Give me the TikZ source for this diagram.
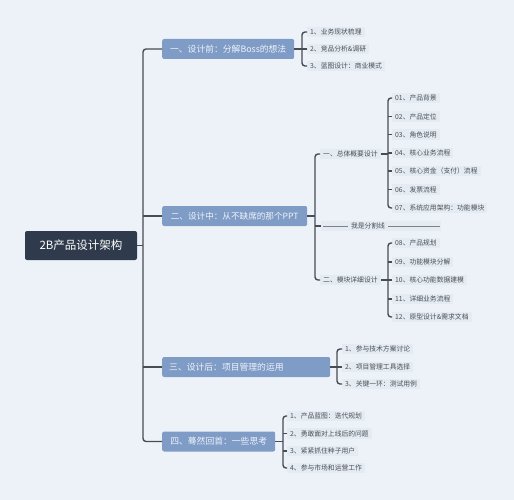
\documentclass[tikz,border=0pt]{standalone}
\usepackage{fontspec}
\setmainfont{Noto Sans CJK SC}
\definecolor{bg}{HTML}{EDF2F9}
\definecolor{rootc}{HTML}{2F3B4C}
\definecolor{mainc}{HTML}{7F9CC6}
\definecolor{mtext}{HTML}{EEF3FA}
\definecolor{linec}{HTML}{474C55}
\definecolor{lab}{HTML}{E5EBF2}
\definecolor{ltext}{HTML}{4A4F58}
\tikzset{
  rootbox/.style={fill=rootc,text=white,rounded corners=2pt,font=\fontsize{11.5}{12}\selectfont,minimum width=112pt,minimum height=29pt,inner sep=0pt},
  mainbox/.style={fill=mainc,text=mtext,rounded corners=2pt,font=\fontsize{8.8}{10}\selectfont,minimum height=20pt,inner xsep=7pt,anchor=west},
  leaf/.style={fill=lab,text=ltext,font=\fontsize{6.8}{8}\selectfont,inner xsep=3pt,inner ysep=2pt,anchor=west},
  conn/.style={draw=linec,line width=1.4pt},
  brk/.style={conn,rounded corners=3pt}
}
\begin{document}
\begin{tikzpicture}[x=1pt,y=-1pt]
\fill[bg] (0,0) rectangle (514,500);
\useasboundingbox (0,0) rectangle (514,500);
% root and main boxes
\node[rootbox] (root) at (81,245.5) {2B产品设计架构};
\node[mainbox,minimum width=132pt] (b1) at (162,49) {一、设计前：分解Boss的想法};
\node[mainbox,font=\fontsize{8.6}{10}\selectfont,minimum width=145pt] (b2) at (162,216) {二、设计中：从不缺席的那个PPT};
\node[mainbox,minimum width=168pt,align=left,text width=154pt] (b3) at (162,367) {三、设计后：项目管理的运用};
\node[mainbox,minimum width=113pt] (b4) at (162,441.5) {四、蓦然回首：一些思考};
\coordinate (t) at (143,245.5);
\draw[brk] (b1.west) -| (t) |- (b4.west);
\draw[conn] (root.east) -- (t);
\draw[conn] (b2.west) -- (b2.west -| t);
\draw[conn] (b3.west) -- (b3.west -| t);
% group 1
\node[leaf] (a1) at (307,32) {1、业务现状梳理};
\node[leaf] (a2) at (307,49) {2、竞品分析\&调研};
\node[leaf] (a3) at (307,66) {3、蓝图设计：商业模式};
\coordinate (ax) at (302,49);
\draw[brk] (a1.west) -| (ax) |- (a3.west);
\draw[conn] (a2.west) -- (a2.west -| ax);
\draw[conn] (b1.east) -- (ax);
% group 2
\node[leaf] (s1) at (320,154) {一、总体概要设计};
\node[leaf] (s2) at (320,280) {二、模块详细设计};
\coordinate (sx) at (315,216);
\coordinate (dl) at (322,226);
\draw[brk] (s1.west) -| (sx) |- (s2.west);
\draw[conn] (b2.east) -- (sx);
\draw[conn] (dl -| sx) -- (dl);
\fill[lab] (321,221) rectangle (441,231);
\draw[linec!70,line width=0.5pt] (323,226) -- (440,226);
\node[leaf,anchor=center] (dv) at (368,226) {我是分割线};
% sub group 2.1
\node[leaf] (c1) at (392,98) {01、产品背景};
\node[leaf] (c2) at (392,116.5) {02、产品定位};
\node[leaf] (c3) at (392,134.5) {03、角色说明};
\node[leaf] (c4) at (392,153) {04、核心业务流程};
\node[leaf] (c5) at (392,171) {05、核心资金（支付）流程};
\node[leaf] (c6) at (392,189.5) {06、发票流程};
\node[leaf] (c7) at (392,208) {07、系统应用架构：功能模块};
\coordinate (cx) at (388,154);
\draw[brk] (c1.west) -| (cx) |- (c7.west);
\foreach \n in {c2,c3,c4,c5,c6} \draw[conn] (\n.west) -- (\n.west -| cx);
\draw[conn] (s1.east) -- (s1.east -| cx);
% sub group 2.2
\node[leaf] (d1) at (392,243) {08、产品规划};
\node[leaf] (d2) at (392,262) {09、功能模块分解};
\node[leaf] (d3) at (392,280) {10、核心功能数据建模};
\node[leaf] (d4) at (392,299) {11、详细业务流程};
\node[leaf] (d5) at (392,317) {12、原型设计\&需求文档};
\coordinate (dx) at (388,280);
\draw[brk] (d1.west) -| (dx) |- (d5.west);
\foreach \n in {d2,d3,d4} \draw[conn] (\n.west) -- (\n.west -| dx);
\draw[conn] (s2.east) -- (dx);
% group 3
\node[leaf] (e1) at (342,349) {1、参与技术方案讨论};
\node[leaf] (e2) at (342,367) {2、项目管理工具选择};
\node[leaf] (e3) at (342,384) {3、关键一环：测试用例};
\coordinate (ex) at (337,367);
\draw[brk] (e1.west) -| (ex) |- (e3.west);
\draw[conn] (e2.west) -- (e2.west -| ex);
\draw[conn] (b3.east) -- (ex);
% group 4
\node[leaf] (f1) at (287,416) {1、产品蓝图：迭代规划};
\node[leaf] (f2) at (287,433.5) {2、勇敢面对上线后的问题};
\node[leaf] (f3) at (287,451) {3、紧紧抓住种子用户};
\node[leaf] (f4) at (287,468) {4、参与市场和运营工作};
\coordinate (fx) at (283,441.5);
\draw[brk] (f1.west) -| (fx) |- (f4.west);
\draw[conn] (f2.west) -- (f2.west -| fx);
\draw[conn] (f3.west) -- (f3.west -| fx);
\draw[conn] (b4.east) -- (fx);
\end{tikzpicture}
\end{document}
